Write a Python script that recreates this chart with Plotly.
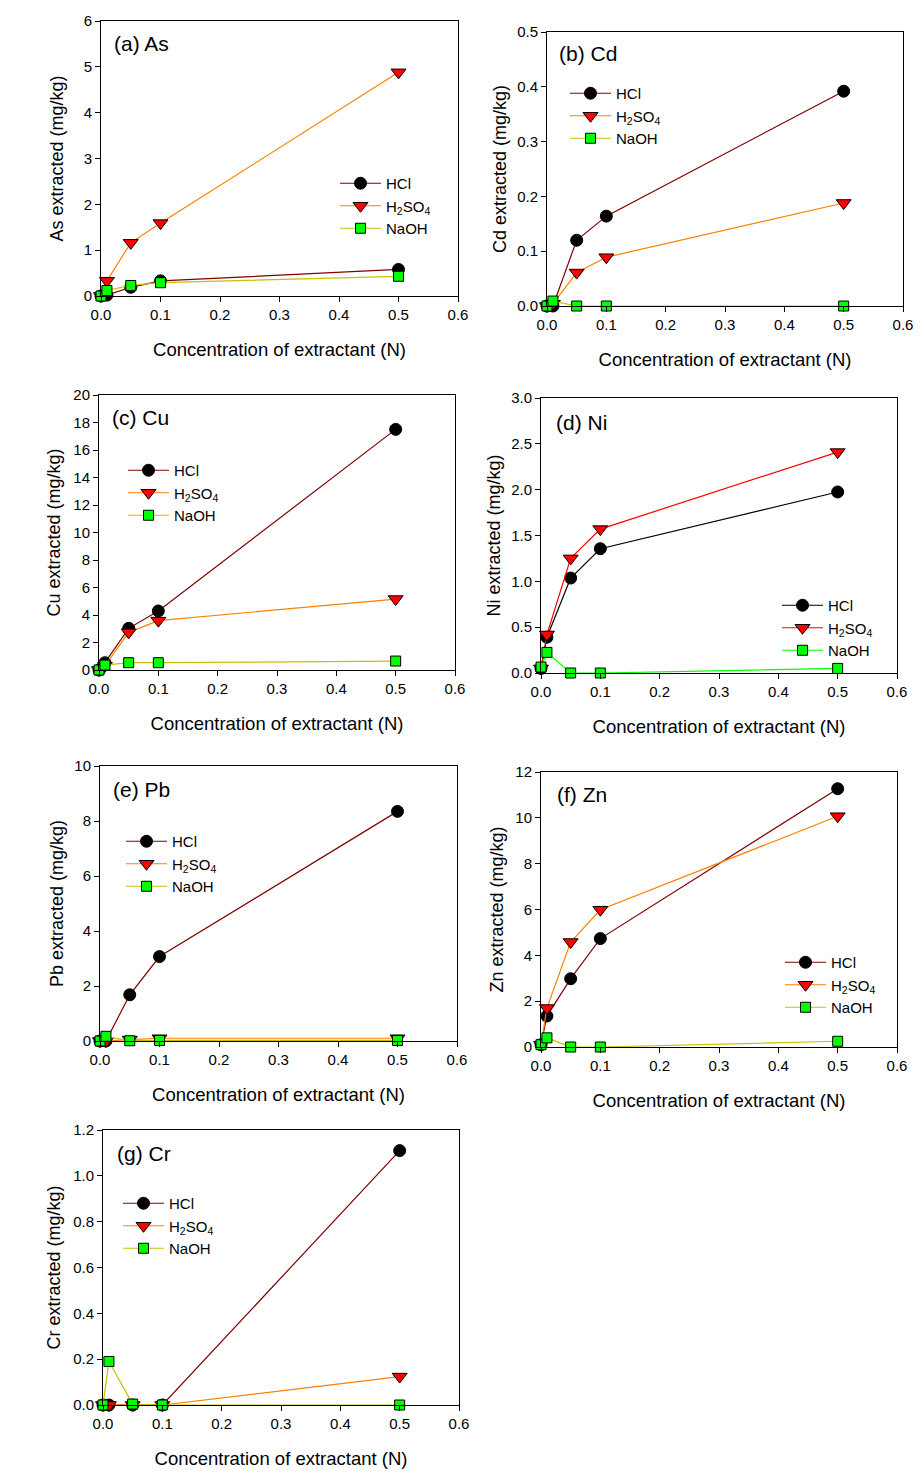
import plotly.graph_objects as go

W, H = 924, 1481
OFFSET = 8  # page body margin of the html page

# ---------------- data ----------------
conc = [0, 0.01, 0.05, 0.1, 0.5]
series_names = ["HCl", "H<sub>2</sub>SO<sub>4</sub>", "NaOH"]

as_hcl = [0, 0.02, 0.19, 0.33, 0.58]
as_h2so4 = [0, 0.33, 1.16, 1.59, 4.88]
as_naoh = [0, 0.12, 0.23, 0.29, 0.43]

cd_hcl = [0, 0.0, 0.12, 0.164, 0.392]
cd_h2so4 = [0, 0.004, 0.061, 0.089, 0.188]
cd_naoh = [0, 0.009, 0.0, 0.0, 0.0]

cu_hcl = [0, 0.53, 3.03, 4.29, 17.5]
cu_h2so4 = [0, 0.3, 2.74, 3.59, 5.16]
cu_naoh = [0, 0.36, 0.53, 0.53, 0.65]

ni_hcl = [0.05, 0.39, 1.036, 1.356, 1.975]
ni_h2so4 = [0.05, 0.42, 1.25, 1.57, 2.41]
ni_naoh = [0.065, 0.225, 0.0, 0.0, 0.05]

pb_hcl = [0, 0.0, 1.68, 3.07, 8.35]
pb_h2so4 = [0, 0.0, 0.05, 0.1, 0.1]
pb_naoh = [0, 0.17, 0.01, 0.02, 0.02]

zn_hcl = [0.1, 1.35, 2.98, 4.73, 11.27]
zn_h2so4 = [0.1, 1.70, 4.58, 5.99, 10.07]
zn_naoh = [0.1, 0.4, 0.0, 0.0, 0.25]

cr_hcl = [0, 0.0, 0.0, 0.0, 1.11]
cr_h2so4 = [0, 0.0, 0.0, 0.0, 0.124]
cr_naoh = [0, 0.19, 0.004, 0.0, 0.0]

panel_labels = ["(a) As", "(b) Cd", "(c) Cu", "(d) Ni", "(e) Pb", "(f) Zn", "(g) Cr"]
y_titles = ["As extracted (mg/kg)", "Cd extracted (mg/kg)", "Cu extracted (mg/kg)",
            "Ni extracted (mg/kg)", "Pb extracted (mg/kg)", "Zn extracted (mg/kg)",
            "Cr extracted (mg/kg)"]
x_title = "Concentration of extractant (N)"
y_max = [6, 0.5, 20, 3.0, 10, 12, 1.2]
y_step = [1, 0.1, 2, 0.5, 2, 2, 0.2]
y_fmt = ["d", ".1f", "d", ".1f", "d", "d", ".1f"]
x_ticks = [0.0, 0.1, 0.2, 0.3, 0.4, 0.5, 0.6]

panel_data = [
    (as_hcl, as_h2so4, as_naoh),
    (cd_hcl, cd_h2so4, cd_naoh),
    (cu_hcl, cu_h2so4, cu_naoh),
    (ni_hcl, ni_h2so4, ni_naoh),
    (pb_hcl, pb_h2so4, pb_naoh),
    (zn_hcl, zn_h2so4, zn_naoh),
    (cr_hcl, cr_h2so4, cr_naoh),
]

# ---------------- layout geometry (pixels) ----------------
# plot area boxes: left, right, top, bottom
boxes = [
    (101, 458, 21, 296),
    (547, 903, 32, 306),
    (99, 455, 395, 670),
    (541, 897, 398, 673),
    (100, 457, 766, 1041),
    (541, 897, 772, 1047),
    (103, 459, 1130, 1405),
]
# legend: line start x, first row centre y
legend_pos = [
    (340, 181), (570, 91), (128, 468), (782, 603), (126, 839), (785, 960), (123, 1201),
]
label_pos = [
    (112, 44), (557, 53), (110, 418), (554, 422), (111, 789), (555, 794), (115, 1153),
]
y_standoff = [15, 5, 8, 5, 6, 7, 7]

default_colors = ["#800000", "#ff8000", "#c8c000"]
ni_colors = ["#000000", "#ff0000", "#00ff00"]
symbols = ["circle", "triangle-down", "square"]
fills = ["#000000", "#ff0000", "#00ff00"]
sizes = [12, 13, 10]

FONT = "Arial, Liberation Sans, sans-serif"


def px_x(x):
    return (x - OFFSET) / W


def px_y(y):
    return 1 - (y - OFFSET) / H


fig = go.Figure()
layout = dict(
    width=W, height=H,
    margin=dict(l=0, r=0, t=0, b=0, autoexpand=False),
    paper_bgcolor="white", plot_bgcolor="white",
    font=dict(family=FONT, size=15, color="black"),
    showlegend=True,
)
annotations = []

for i in range(7):
    n = i + 1
    xa = "x" if n == 1 else f"x{n}"
    ya = "y" if n == 1 else f"y{n}"
    leg = "legend" if n == 1 else f"legend{n}"
    colors = ni_colors if i == 3 else default_colors
    for s in range(3):
        fig.add_trace(go.Scatter(
            x=conc, y=panel_data[i][s], name=series_names[s],
            mode="lines+markers", xaxis=xa, yaxis=ya, legend=leg,
            cliponaxis=False,
            line=dict(color=colors[s], width=1.2),
            marker=dict(symbol=symbols[s], size=sizes[s], color=fills[s],
                        line=dict(color="#000000", width=1)),
        ))
    L, R, T, B = boxes[i]
    axis_common = dict(
        showline=True, linecolor="black", linewidth=1, mirror=True,
        ticks="outside", ticklen=5, tickwidth=1, tickcolor="black",
        showgrid=False, zeroline=False, automargin=False,
        tickfont=dict(family=FONT, size=15, color="black"),
    )
    layout["xaxis" if n == 1 else f"xaxis{n}"] = dict(
        axis_common,
        domain=[px_x(L), px_x(R)], anchor=ya,
        range=[0, 0.6], tickmode="array", tickvals=x_ticks,
        ticktext=[f"{v:.1f}" for v in x_ticks],
        title=dict(text=x_title, font=dict(family=FONT, size=18.5), standoff=21),
    )
    layout["yaxis" if n == 1 else f"yaxis{n}"] = dict(
        axis_common,
        domain=[px_y(B), px_y(T)], anchor=xa,
        range=[0, y_max[i]], tick0=0, dtick=y_step[i], tickformat=y_fmt[i],
        title=dict(text=y_titles[i], font=dict(family=FONT, size=18), standoff=y_standoff[i]),
    )
    lx, ly = legend_pos[i]
    layout[leg] = dict(
        x=px_x(lx - 5), y=px_y(ly - 14), xanchor="left", yanchor="top",
        xref="paper", yref="paper",
        bgcolor="rgba(0,0,0,0)", borderwidth=0,
        font=dict(family=FONT, size=15, color="black"),
        itemwidth=41, tracegroupgap=0,
    )
    tx, ty = label_pos[i]
    annotations.append(dict(
        text=panel_labels[i], x=px_x(tx), y=px_y(ty), xref="paper", yref="paper",
        xanchor="left", yanchor="middle", showarrow=False,
        font=dict(family=FONT, size=21, color="black"),
    ))

layout["annotations"] = annotations
fig.update_layout(**layout)
fig.write_html("out.html")
